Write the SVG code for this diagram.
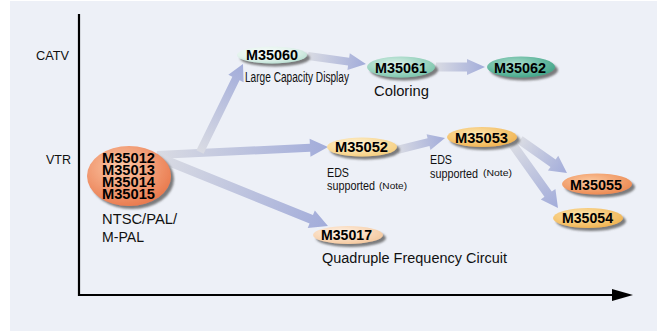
<svg xmlns="http://www.w3.org/2000/svg" width="659" height="331" viewBox="0 0 659 331">
<style>
.lbl{font-family:"Liberation Sans",Arial,Helvetica,sans-serif;fill:#111}
.nt{font-family:"Liberation Sans",Arial,Helvetica,sans-serif;font-weight:bold;font-size:14px;fill:#000}
.note{font-family:"Liberation Sans",Arial,Helvetica,sans-serif;font-size:9px;fill:#111}
.arr{fill:url(#ag)}
</style>
<defs>
<linearGradient id="ag" x1="0" y1="0" x2="1" y2="0">
<stop offset="0" stop-color="#d9dbe3"/>
<stop offset="1" stop-color="#a2acda"/>
</linearGradient>
<filter id="sh" x="-20%" y="-30%" width="150%" height="180%">
<feDropShadow dx="3" dy="3" stdDeviation="1.3" flood-color="#555" flood-opacity="0.75"/>
</filter>
<radialGradient id="gMint" cx="0.4" cy="0.35" r="0.7"><stop offset="0" stop-color="#f7fcfa"/><stop offset="0.6" stop-color="#e4f3ed"/><stop offset="1" stop-color="#b7ded0"/></radialGradient>
<radialGradient id="gTeal" cx="0.4" cy="0.35" r="0.7"><stop offset="0" stop-color="#dcf1e9"/><stop offset="1" stop-color="#78c4aa"/></radialGradient>
<radialGradient id="gTealD" cx="0.4" cy="0.35" r="0.7"><stop offset="0" stop-color="#a9ddcc"/><stop offset="1" stop-color="#3ea386"/></radialGradient>
<radialGradient id="gBig" cx="0.4" cy="0.35" r="0.7"><stop offset="0" stop-color="#fcc9a8"/><stop offset="1" stop-color="#e9774a"/></radialGradient>
<radialGradient id="gOr" cx="0.4" cy="0.35" r="0.7"><stop offset="0" stop-color="#fbc79d"/><stop offset="1" stop-color="#ec8850"/></radialGradient>
<radialGradient id="gYel" cx="0.4" cy="0.35" r="0.7"><stop offset="0" stop-color="#fde6b0"/><stop offset="1" stop-color="#f0b24e"/></radialGradient>
<radialGradient id="gLY" cx="0.4" cy="0.35" r="0.7"><stop offset="0" stop-color="#fff4d8"/><stop offset="1" stop-color="#f5cd7c"/></radialGradient>
<radialGradient id="gPeach" cx="0.4" cy="0.35" r="0.7"><stop offset="0" stop-color="#fff2e6"/><stop offset="1" stop-color="#f4c79c"/></radialGradient>
</defs>
<rect x="0" y="0" width="659" height="331" fill="#ffffff"/>
<rect x="10" y="1" width="647" height="330" fill="#edf0f7"/>
<g id="axes">
<line x1="79" y1="14" x2="79" y2="296" stroke="#000" stroke-width="2.2"/>
<line x1="78" y1="295" x2="615" y2="295" stroke="#000" stroke-width="2.2"/>
<polygon points="612,289 633,295 612,301" fill="#000"/>
<text class="lbl" x="36" y="60" font-size="13.5" textLength="33" lengthAdjust="spacingAndGlyphs">CATV</text>
<text class="lbl" x="46" y="164" font-size="13.5" textLength="25" lengthAdjust="spacingAndGlyphs">VTR</text>
</g>
<g id="connectors">
<polygon class="arr" transform="translate(157,155) rotate(-2.68)" points="0,-4 153.2,-4 153.2,-9 171.2,0 153.2,9 153.2,4 0,4"/>
<polygon class="arr" transform="translate(200,152) rotate(-63.96)" points="0,-4 81.9,-4 81.9,-8.5 97.9,0 81.9,8.5 81.9,4 0,4"/>
<polygon class="arr" transform="translate(160,158) rotate(22.04)" points="0,-4.5 163.2,-4.5 163.2,-9.5 181.2,0 163.2,9.5 163.2,4.5 0,4.5"/>
<polygon class="arr" transform="translate(308,56) rotate(7.85)" points="0,-4 41,-4 41,-8.5 58.5,0 41,8.5 41,4 0,4"/>
<polygon class="arr" transform="translate(436,67) rotate(0)" points="0,-4.5 31,-4.5 31,-8 49,0 31,8 31,4.5 0,4.5"/>
<polygon class="arr" transform="translate(397,150) rotate(-14.04)" points="0,-4 32.5,-4 32.5,-8 49.5,0 32.5,8 32.5,4 0,4"/>
<polygon class="arr" transform="translate(520,140) rotate(35.07)" points="0,-4.5 40.4,-4.5 40.4,-9 57.4,0 40.4,9 40.4,4.5 0,4.5"/>
<polygon class="arr" transform="translate(513,145) rotate(54.46)" points="0,-4.5 60.4,-4.5 60.4,-9 77.4,0 60.4,9 60.4,4.5 0,4.5"/>
</g>
<g id="n-m35012">
<ellipse cx="129" cy="176" rx="42" ry="30" fill="url(#gBig)" filter="url(#sh)"/>
<text class="nt" x="102" y="163" font-size="14" textLength="53" lengthAdjust="spacingAndGlyphs">M35012</text>
<text class="nt" x="102" y="175" font-size="14" textLength="53" lengthAdjust="spacingAndGlyphs">M35013</text>
<text class="nt" x="102" y="187" font-size="14" textLength="53" lengthAdjust="spacingAndGlyphs">M35014</text>
<text class="nt" x="102" y="198.5" font-size="14" textLength="53" lengthAdjust="spacingAndGlyphs">M35015</text>
<text class="lbl" x="102" y="224" font-size="14.5" textLength="75" lengthAdjust="spacingAndGlyphs">NTSC/PAL/</text>
<text class="lbl" x="102" y="242" font-size="14.5" textLength="42" lengthAdjust="spacingAndGlyphs">M-PAL</text>
</g>
<g id="n-m35060">
<ellipse cx="272" cy="55" rx="35" ry="8.5" fill="url(#gMint)" filter="url(#sh)"/>
<text class="nt" x="246" y="60" textLength="52" lengthAdjust="spacingAndGlyphs">M35060</text>
<text class="lbl" x="245" y="82" font-size="14" textLength="104" lengthAdjust="spacingAndGlyphs">Large Capacity Display</text>
</g>
<g id="n-m35061">
<ellipse cx="401" cy="67" rx="34" ry="10.5" fill="url(#gTeal)" filter="url(#sh)"/>
<text class="nt" x="375" y="72.5" textLength="52" lengthAdjust="spacingAndGlyphs">M35061</text>
<text class="lbl" x="374" y="96" font-size="14" textLength="55" lengthAdjust="spacingAndGlyphs">Coloring</text>
</g>
<g id="n-m35062">
<ellipse cx="521" cy="67" rx="34" ry="10.5" fill="url(#gTealD)" filter="url(#sh)"/>
<text class="nt" x="494" y="72.5" textLength="52" lengthAdjust="spacingAndGlyphs">M35062</text>
</g>
<g id="n-m35052">
<ellipse cx="362" cy="147" rx="35" ry="9.5" fill="url(#gLY)" filter="url(#sh)"/>
<text class="nt" x="335" y="152" textLength="53" lengthAdjust="spacingAndGlyphs">M35052</text>
<text class="lbl" x="327" y="177" font-size="12.5" textLength="22" lengthAdjust="spacingAndGlyphs">EDS</text>
<text class="lbl" x="327" y="190" font-size="12.5" textLength="48" lengthAdjust="spacingAndGlyphs">supported</text>
<text class="note" x="379" y="188.5" textLength="28" lengthAdjust="spacingAndGlyphs">(Note)</text>
</g>
<g id="n-m35053">
<ellipse cx="482" cy="137" rx="35" ry="10" fill="url(#gYel)" filter="url(#sh)"/>
<text class="nt" x="455" y="142.5" textLength="53" lengthAdjust="spacingAndGlyphs">M35053</text>
<text class="lbl" x="430" y="164" font-size="12.5" textLength="22" lengthAdjust="spacingAndGlyphs">EDS</text>
<text class="lbl" x="430" y="178" font-size="12.5" textLength="48" lengthAdjust="spacingAndGlyphs">supported</text>
<text class="note" x="483" y="176" textLength="29" lengthAdjust="spacingAndGlyphs">(Note)</text>
</g>
<g id="n-m35055">
<ellipse cx="597" cy="184" rx="35" ry="10.5" fill="url(#gOr)" filter="url(#sh)"/>
<text class="nt" x="570" y="189.5" textLength="52" lengthAdjust="spacingAndGlyphs">M35055</text>
</g>
<g id="n-m35054">
<ellipse cx="588" cy="218" rx="35" ry="10" fill="url(#gYel)" filter="url(#sh)"/>
<text class="nt" x="562" y="223" textLength="51" lengthAdjust="spacingAndGlyphs">M35054</text>
</g>
<g id="n-m35017">
<ellipse cx="348" cy="235" rx="35" ry="9" fill="url(#gPeach)" filter="url(#sh)"/>
<text class="nt" x="321" y="240" textLength="51" lengthAdjust="spacingAndGlyphs">M35017</text>
<text class="lbl" x="322" y="263" font-size="14" textLength="185" lengthAdjust="spacingAndGlyphs">Quadruple Frequency Circuit</text>
</g>
</svg>
